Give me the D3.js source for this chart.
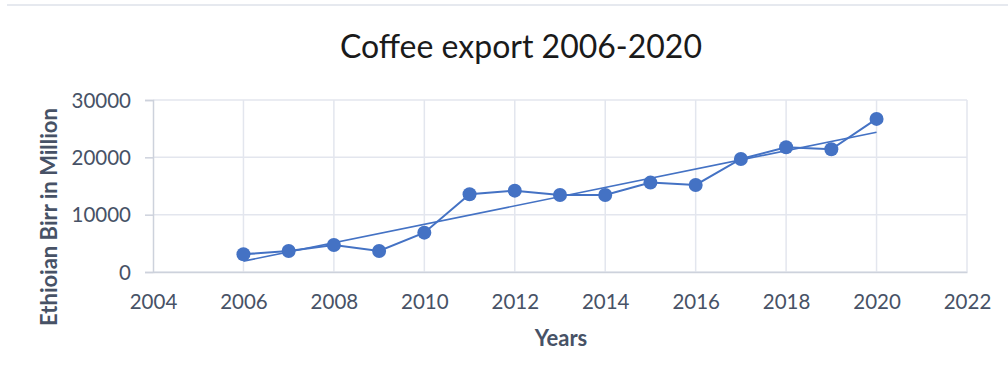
<!DOCTYPE html>
<html>
<head>
    <script src="https://d3js.org/d3.v7.min.js"></script>
    <style>
        body { margin: 0; background: #fff; }
        .tick-label { font-family: 'Lato', sans-serif; font-size: 20.5px; fill: #475266; }
        .axis-title { font-family: 'Lato', sans-serif; font-size: 22px; font-weight: bold; fill: #475266; }
        .title { font-family: 'Lato', sans-serif; font-size: 32px; fill: #1a1a1a; }
    </style>
</head>
<body>
<svg id="chart" width="1008" height="370"></svg>
<script>
    const years = [2006, 2007, 2008, 2009, 2010, 2011, 2012, 2013, 2014, 2015, 2016, 2017, 2018, 2019, 2020];
    const exportValues = [3090, 3660, 4710, 3660, 6860, 13560, 14190, 13440, 13440, 15590, 15180, 19720, 21760, 21410, 26700];
    const xTicks = [2004, 2006, 2008, 2010, 2012, 2014, 2016, 2018, 2020, 2022];
    const yTicks = [0, 10000, 20000, 30000];

    const data = years.map((y, i) => ({ year: y, value: exportValues[i] }));

    const margin = { top: 100, right: 41, bottom: 98, left: 153 };
    const width = 1008, height = 370;

    const svg = d3.select("#chart");

    // outer frame line at top
    svg.append("line")
        .attr("x1", 7).attr("x2", width)
        .attr("y1", 5).attr("y2", 5)
        .attr("stroke", "#e6e9ef").attr("stroke-width", 2);

    const x = d3.scaleLinear().domain([2004, 2022]).range([margin.left, width - margin.right]);
    const y = d3.scaleLinear().domain([0, 30000]).range([height - margin.bottom, margin.top]);

    // gridlines
    svg.append("g").selectAll("line").data(xTicks.slice(1)).enter().append("line")
        .attr("x1", d => x(d)).attr("x2", d => x(d))
        .attr("y1", y(0)).attr("y2", y(30000))
        .attr("stroke", "#e3e6ee").attr("stroke-width", 1.5);
    svg.append("g").selectAll("line").data(yTicks).enter().append("line")
        .attr("x1", x(2004)).attr("x2", x(2022))
        .attr("y1", d => y(d)).attr("y2", d => y(d))
        .attr("stroke", "#e3e6ee").attr("stroke-width", 1.5);

    // y axis
    const yAxis = svg.append("g")
        .attr("transform", `translate(${margin.left},0)`)
        .call(d3.axisLeft(y).tickValues(yTicks).tickSize(8).tickPadding(14).tickFormat(d3.format("d")));
    yAxis.select(".domain").attr("stroke", "#cdd2dc").attr("stroke-width", 1.5);
    yAxis.selectAll(".tick line").attr("stroke", "#cdd2dc").attr("stroke-width", 1.5);
    yAxis.selectAll(".tick text").attr("class", "tick-label").attr("dy", "0.35em");

    // x axis
    const xAxis = svg.append("g")
        .attr("transform", `translate(0,${y(0)})`)
        .call(d3.axisBottom(x).tickValues(xTicks).tickSize(0).tickPadding(22).tickFormat(d3.format("d")));
    xAxis.select(".domain").attr("stroke", "#cdd2dc").attr("stroke-width", 1.5);
    xAxis.selectAll(".tick text").attr("class", "tick-label");

    // linear trendline
    const n = data.length;
    const mx = d3.mean(data, d => d.year), my = d3.mean(data, d => d.value);
    const slope = d3.sum(data, d => (d.year - mx) * (d.value - my)) / d3.sum(data, d => (d.year - mx) ** 2);
    const intercept = my - slope * mx;
    const trend = [years[0], years[n - 1]].map(t => ({ year: t, value: intercept + slope * t }));

    const line = d3.line().x(d => x(d.year)).y(d => y(d.value));

    svg.append("path").datum(trend)
        .attr("d", line).attr("fill", "none")
        .attr("stroke", "#4472c4").attr("stroke-width", 1.6);

    svg.append("path").datum(data)
        .attr("d", line).attr("fill", "none")
        .attr("stroke", "#4472c4").attr("stroke-width", 2);

    svg.selectAll("circle").data(data).enter().append("circle")
        .attr("cx", d => x(d.year)).attr("cy", d => y(d.value))
        .attr("r", 7).attr("fill", "#4472c4");

    // titles
    svg.append("text").attr("class", "title")
        .attr("x", 521).attr("y", 58).attr("text-anchor", "middle")
        .text("Coffee export 2006-2020");

    svg.append("text").attr("class", "axis-title")
        .attr("x", 561).attr("y", 346).attr("text-anchor", "middle")
        .text("Years");

    svg.append("text").attr("class", "axis-title")
        .attr("transform", "translate(57,217) rotate(-90)")
        .attr("text-anchor", "middle")
        .text("Ethioian Birr in Million");
</script>
</body>
</html>
